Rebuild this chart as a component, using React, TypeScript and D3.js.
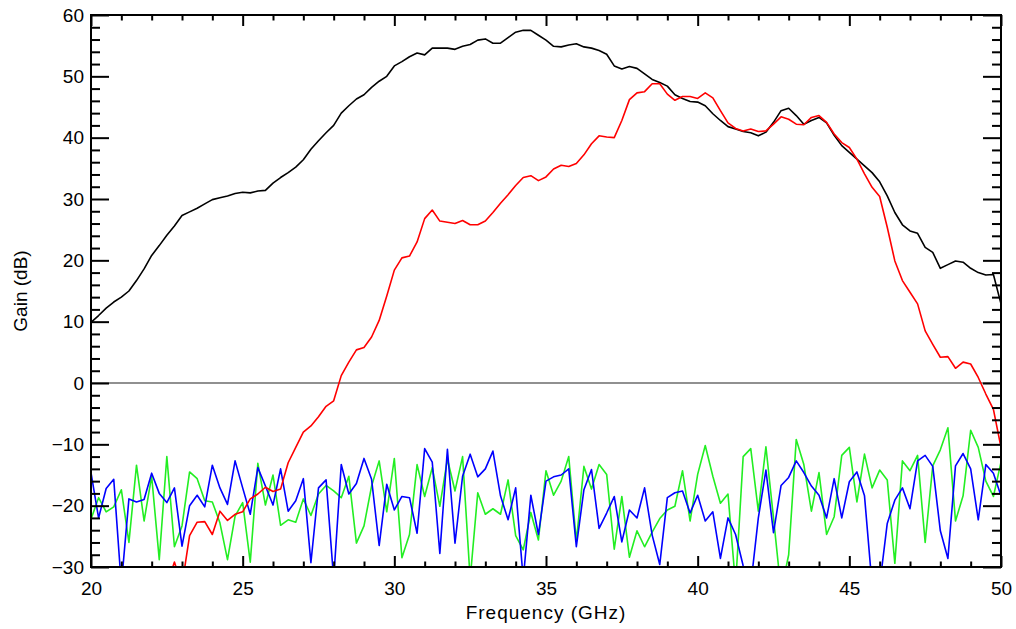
import React, { useEffect, useRef } from "react";
import * as d3 from "d3";

// sampling grid: 20 to 50 GHz every 0.25 GHz
const freqStart = 20;
const freqStep = 0.25;

const black = [
  9.9, 11.0, 12.2, 13.2, 14.0, 15.0, 16.7, 18.6, 20.8, 22.4,
  24.1, 25.6, 27.3, 27.9, 28.5, 29.2, 29.9, 30.2, 30.5, 30.9,
  31.1, 31.0, 31.3, 31.4, 32.6, 33.5, 34.3, 35.2, 36.4, 38.1,
  39.5, 40.8, 42.0, 44.0, 45.2, 46.3, 47.0, 48.2, 49.2, 50.0,
  51.7, 52.4, 53.2, 53.8, 53.5, 54.6, 54.6, 54.6, 54.4, 54.9,
  55.2, 55.9, 56.1, 55.4, 55.4, 56.3, 57.2, 57.5, 57.5, 56.7,
  55.9, 54.9, 54.8, 55.1, 55.3, 54.8, 54.6, 54.2, 53.6, 51.7,
  51.2, 51.6, 51.3, 50.4, 49.5, 49.0, 48.4, 47.0, 46.4, 45.9,
  45.8, 45.2, 43.9, 42.8, 41.8, 41.4, 41.0, 40.8, 40.3, 40.9,
  42.5, 44.4, 44.8, 43.6, 42.2, 42.8, 43.3, 42.4, 40.4, 38.7,
  37.6, 36.5, 35.4, 34.3, 32.8, 30.5, 27.8, 25.8, 24.8, 24.4,
  22.1, 21.3, 18.7, 19.3, 19.9, 19.7, 18.7, 18.0, 17.6, 17.7,
  12.9,
];

const red: (number | null)[] = [
  null, null, null, null, null, null, null, null, null, null,
  -33, -29.2, -33, -24.9, -22.7, -22.6, -24.7, -20.9, -22.4, -21.4,
  -21.0, -18.9, -18.1, -17.0, -17.7, -17.3, -13.0, -10.5, -8.0, -7.0,
  -5.5, -3.8, -2.9, 1.2, 3.4, 5.4, 5.8, 7.5, 10.2, 14.2,
  18.4, 20.4, 20.7, 23.0, 26.8, 28.2, 26.4, 26.2, 26.0, 26.5,
  25.8, 25.8, 26.4, 27.8, 29.3, 30.7, 32.2, 33.5, 33.8, 33.0,
  33.6, 34.9, 35.5, 35.3, 35.8, 37.2, 39.0, 40.3, 40.1, 40.0,
  42.8, 46.2, 47.3, 47.5, 48.8, 48.8, 47.1, 46.1, 46.7, 46.7,
  46.4, 47.3, 46.5, 44.4, 42.4, 41.5, 41.1, 41.4, 41.0, 41.1,
  42.2, 43.4, 43.0, 42.2, 42.1, 43.3, 43.6, 42.5, 40.6, 39.2,
  38.4, 36.5, 34.1, 31.9, 30.4, 25.4, 19.9, 16.7, 14.8, 12.9,
  8.5, 6.3, 4.2, 4.3, 2.4, 3.4, 3.1, 0.9, -1.8, -4.3,
  -10.5,
];

const blue = [
  -14.6, -22.0, -17.2, -15.7, -33, -18.9, -19.4, -19.0, -14.7, -18.0,
  -19.5, -17.1, -26.6, -20.0, -18.3, -20.2, -13.4, -17.1, -19.8, -12.7,
  -17.1, -21.4, -13.8, -16.8, -19.9, -14.0, -20.9, -19.2, -15.6, -29.3,
  -17.1, -15.8, -32, -13.3, -18.1, -16.4, -12.3, -15.7, -26.5, -16.5,
  -20.7, -18.5, -18.7, -24.5, -10.7, -12.9, -27.8, -10.8, -26.1, -15.2,
  -11.6, -15.3, -14.0, -11.1, -18.4, -22.3, -17.1, -32, -18.3, -24.7,
  -16.0, -15.3, -15.0, -14.0, -26.7, -17.4, -14.1, -23.7, -21.2, -18.5,
  -25.9, -20.7, -22.0, -17.1, -24.8, -29.6, -18.7, -17.9, -17.6, -21.2,
  -18.3, -22.5, -21.0, -28.6, -22.0, -24.7, -29.8, -33, -22.0, -14.2,
  -24.4, -16.7, -15.4, -12.7, -14.6, -16.8, -18.3, -22.0, -15.6, -22.0,
  -16.1, -14.5, -18.4, -33, -33, -22.9, -19.1, -17.1, -20.5, -12.7,
  -11.8, -13.6, -24.1, -28.6, -13.5, -11.5, -14.0, -22.3, -13.3, -14.7,
  -18.4,
];

const green = [
  -22.2, -18.7, -21.0, -20.2, -17.4, -26.0, -13.4, -22.5, -15.2, -28.8,
  -12.0, -26.7, -23.3, -14.5, -15.6, -19.2, -19.4, -22.8, -28.8, -21.7,
  -19.5, -29.2, -13.1, -19.9, -15.0, -23.2, -22.3, -22.7, -18.9, -21.6,
  -18.1, -16.7, -17.6, -18.7, -15.2, -26.1, -23.3, -16.8, -12.7, -21.0,
  -12.3, -28.5, -24.7, -13.3, -18.5, -13.8, -20.1, -12.4, -17.6, -12.0,
  -32, -17.9, -21.4, -20.5, -21.4, -15.8, -24.9, -27.2, -21.1, -25.6,
  -14.3, -18.3, -16.0, -12.0, -25.8, -13.6, -17.3, -13.3, -14.9, -27.1,
  -18.5, -28.4, -24.1, -26.7, -24.3, -22.1, -20.7, -20.1, -14.3, -22.5,
  -14.9, -10.2, -15.2, -19.6, -18.1, -33, -12.0, -10.7, -20.9, -10.4,
  -22.0, -34, -28, -9.2, -13.3, -20.9, -14.6, -24.7, -21.8, -11.8,
  -10.5, -19.4, -11.6, -17.1, -14.2, -15.8, -29.4, -12.7, -14.3, -11.8,
  -26.0, -13.5, -10.9, -7.3, -22.5, -18.4, -7.7, -10.5, -16.0, -18.5,
  -12.9,
];

const xMajor = [20, 25, 30, 35, 40, 45, 50];
const yMajor = [-30, -20, -10, 0, 10, 20, 30, 40, 50, 60];

const series = [
  { name: "green", values: green, color: "#22ee22" },
  { name: "blue", values: blue, color: "#0000ff" },
  { name: "black", values: black, color: "#000000" },
  { name: "red", values: red, color: "#ff0000" },
];

const W = 1016;
const H = 629;
const left = 91;
const right = 1001;
const top = 15;
const bottom = 567;
const font = "'Liberation Sans', Arial, sans-serif";

function drawChart(node: SVGSVGElement) {
  const svg = d3.select(node);
  svg.selectAll("*").remove();

  const x = d3.scaleLinear().domain([20, 50]).range([left, right]);
  const y = d3.scaleLinear().domain([-30, 60]).range([bottom, top]);

  svg
    .append("defs")
    .append("clipPath")
    .attr("id", "plotClip")
    .append("rect")
    .attr("x", left)
    .attr("y", top)
    .attr("width", right - left)
    .attr("height", bottom - top);

  // zero reference line
  svg
    .append("line")
    .attr("x1", left)
    .attr("x2", right)
    .attr("y1", y(0))
    .attr("y2", y(0))
    .attr("stroke", "#222")
    .attr("stroke-width", 1.2);

  const line = d3
    .line<number | null>()
    .defined((d) => d !== null)
    .x((_, i) => x(freqStart + i * freqStep))
    .y((d) => y(d as number));

  const plot = svg.append("g").attr("clip-path", "url(#plotClip)");
  series.forEach((s) => {
    plot
      .append("path")
      .attr("d", line(s.values as (number | null)[]))
      .attr("fill", "none")
      .attr("stroke", s.color)
      .attr("stroke-width", 1.6)
      .attr("stroke-linejoin", "round");
  });

  const xMinor = d3.range(20, 51, 1).filter((v) => !xMajor.includes(v));
  const yMinor = d3.range(-30, 61, 2).filter((v) => !yMajor.includes(v));

  const styleAxis = (g: any) => {
    g.select(".domain").remove();
    g.selectAll("line").attr("stroke", "#000").attr("stroke-width", 2);
    g.selectAll("text")
      .attr("fill", "#000")
      .style("font-family", font)
      .style("font-size", "19px");
  };

  // bottom
  svg
    .append("g")
    .attr("transform", `translate(0,${bottom})`)
    .call(d3.axisBottom(x).tickValues(xMajor).tickSize(-11).tickPadding(15).tickFormat(d3.format("d")))
    .call(styleAxis);
  svg
    .append("g")
    .attr("transform", `translate(0,${bottom})`)
    .call(d3.axisBottom(x).tickValues(xMinor).tickSize(-5.5).tickFormat(() => ""))
    .call(styleAxis);
  // top
  svg
    .append("g")
    .attr("transform", `translate(0,${top})`)
    .call(d3.axisTop(x).tickValues(xMajor).tickSize(-11).tickFormat(() => ""))
    .call(styleAxis);
  svg
    .append("g")
    .attr("transform", `translate(0,${top})`)
    .call(d3.axisTop(x).tickValues(xMinor).tickSize(-5.5).tickFormat(() => ""))
    .call(styleAxis);
  // left
  svg
    .append("g")
    .attr("transform", `translate(${left},0)`)
    .call(d3.axisLeft(y).tickValues(yMajor).tickSize(-18).tickPadding(7).tickFormat(d3.format("d")))
    .call(styleAxis);
  svg
    .append("g")
    .attr("transform", `translate(${left},0)`)
    .call(d3.axisLeft(y).tickValues(yMinor).tickSize(-9).tickFormat(() => ""))
    .call(styleAxis);
  // right
  svg
    .append("g")
    .attr("transform", `translate(${right},0)`)
    .call(d3.axisRight(y).tickValues(yMajor).tickSize(-18).tickFormat(() => ""))
    .call(styleAxis);
  svg
    .append("g")
    .attr("transform", `translate(${right},0)`)
    .call(d3.axisRight(y).tickValues(yMinor).tickSize(-9).tickFormat(() => ""))
    .call(styleAxis);

  // frame
  svg
    .append("rect")
    .attr("x", left)
    .attr("y", top)
    .attr("width", right - left)
    .attr("height", bottom - top)
    .attr("fill", "none")
    .attr("stroke", "#000")
    .attr("stroke-width", 2);

  // axis titles
  svg
    .append("text")
    .attr("x", (left + right) / 2)
    .attr("y", 619)
    .attr("text-anchor", "middle")
    .style("font-family", font)
    .style("font-size", "19px")
    .style("letter-spacing", "1px")
    .text("Frequency (GHz)");

  svg
    .append("text")
    .attr("transform", `translate(27,${(top + bottom) / 2}) rotate(-90)`)
    .attr("text-anchor", "middle")
    .style("font-family", font)
    .style("font-size", "19px")
    .text("Gain (dB)");
}

export default function App() {
  const ref = useRef<SVGSVGElement>(null);
  useEffect(() => {
    if (ref.current) drawChart(ref.current);
  }, []);
  return (
    <svg
      ref={ref}
      width={W}
      height={H}
      style={{ position: "absolute", left: 0, top: 0, background: "#fff" }}
    />
  );
}
